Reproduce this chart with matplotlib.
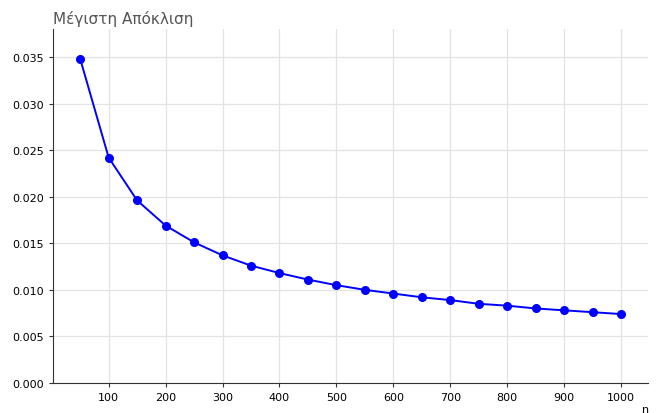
import matplotlib.pyplot as plt

# maximum deviation for each sample size n
n_values = [50, 100, 150, 200, 250, 300, 350, 400, 450, 500,
            550, 600, 650, 700, 750, 800, 850, 900, 950, 1000]
max_dev = [0.0348, 0.0242, 0.0196, 0.0169, 0.0151, 0.0137, 0.0126, 0.0118, 0.0111, 0.0105,
           0.0100, 0.0096, 0.0092, 0.0089, 0.0085, 0.0083, 0.0080, 0.0078, 0.0076, 0.0074]
x_ticks = [100, 200, 300, 400, 500, 600, 700, 800, 900, 1000]
y_ticks = [0.000, 0.005, 0.010, 0.015, 0.020, 0.025, 0.030, 0.035]

fig = plt.figure(figsize=(6.56, 4.14), dpi=100)
ax = fig.add_axes([0.081, 0.0725, 0.907, 0.855])

ax.plot(n_values, max_dev, color='#0000ff', linewidth=1.4, marker='o', markersize=5.5, zorder=3)

ax.set_xlim(2.5, 1047.5)
ax.set_ylim(0, 0.038)
ax.set_xticks(x_ticks)
ax.set_yticks(y_ticks)
ax.set_yticklabels(['%.3f' % t for t in y_ticks])
ax.tick_params(labelsize=8, length=3, color='#333333')

ax.grid(True, color='#e3e3e3', linewidth=0.9)
ax.set_axisbelow(True)
for side in ['top', 'right']:
    ax.spines[side].set_visible(False)
for side in ['left', 'bottom']:
    ax.spines[side].set_color('#333333')

ax.set_title('Μέγιστη Απόκλιση', loc='left', fontsize=11, color='#555555', pad=4)
ax.set_xlabel('n', fontsize=8)
ax.xaxis.set_label_coords(0.995, -0.058)

fig.savefig('out.png', dpi=100)
